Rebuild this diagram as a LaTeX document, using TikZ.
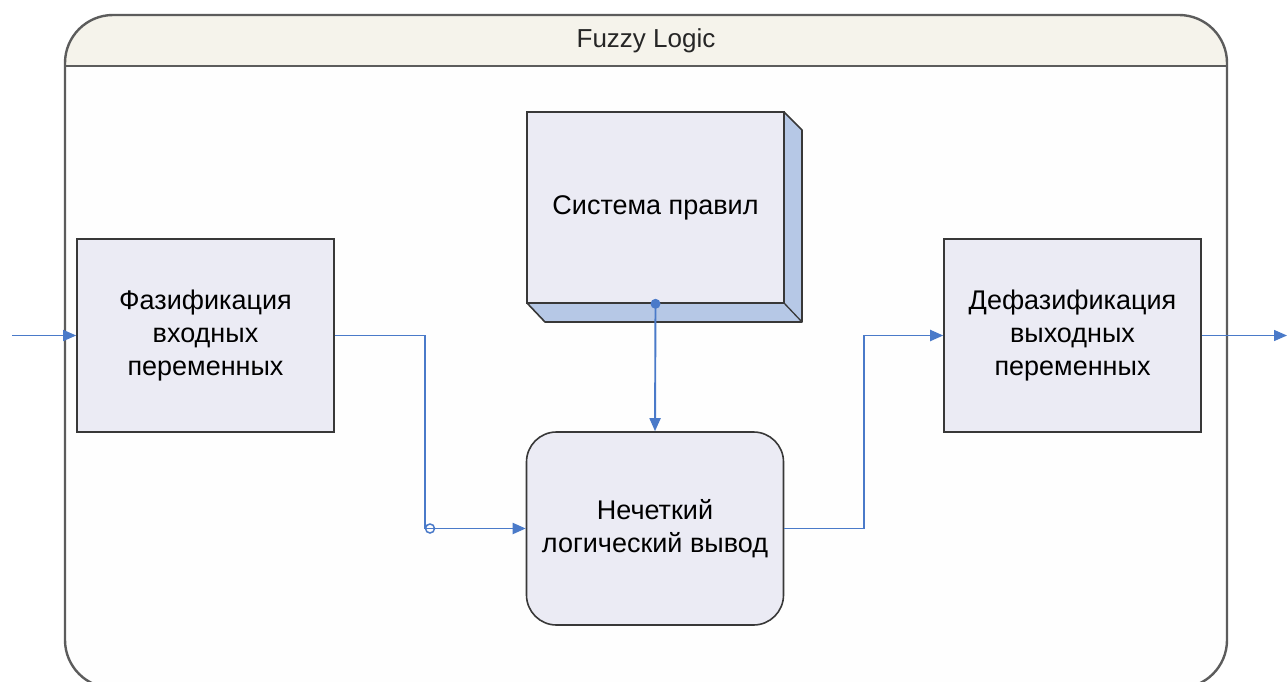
\documentclass[tikz,border=0pt]{standalone}
\usepackage{fontspec}
\setmainfont{Liberation Sans}
\usetikzlibrary{arrows.meta}
\definecolor{boxfill}{HTML}{EBEBF4}
\definecolor{hdrfill}{HTML}{F5F3EB}
\definecolor{sidefill}{HTML}{B6C8E6}
\definecolor{linkblue}{HTML}{4A7AC9}
\definecolor{edge}{HTML}{383838}
\definecolor{framegray}{HTML}{5C5C5C}
\tikzset{
  blockbox/.style={draw=edge, line width=1.6pt, fill=boxfill,
    minimum width=257pt, minimum height=193pt, inner sep=0pt,
    align=center, font=\fontsize{27}{33}\selectfont},
  conn/.style={draw=linkblue, line width=1.9pt,
    -{Triangle[length=13pt,width=11pt]}},
}
\begin{document}
\begin{tikzpicture}[x=1pt, y=-1pt]
\useasboundingbox (0,0) rectangle (1287,682);
\fill[white] (0,0) rectangle (1287,682);

% outer frame with header band
\begin{scope}
  \clip[rounded corners=48pt] (65,15) rectangle (1227,688);
  \fill[white!99!gray] (65,15) rectangle (1227,688);
  \fill[hdrfill] (65,15) rectangle (1227,66);
\end{scope}
\draw[framegray, line width=2.4pt, rounded corners=48pt] (65,15) rectangle (1227,688);
\draw[framegray, line width=2.4pt] (65,66) -- (1227,66);
\node[font=\fontsize{26}{30}\selectfont, text=black!85] (title) at (646,41) {Fuzzy Logic};

% 3D rules block: side faces first
\fill[sidefill] (527,303) -- (545,322) -- (802,322) -- (802,130) -- (784,112) -- (784,303) -- cycle;
\draw[edge, line width=1.6pt, line join=round]
  (527,303) -- (545,322) -- (802,322) -- (802,130) -- (784,112);
\draw[edge, line width=1.3pt] (784,303) -- (802,322);
\node[blockbox, minimum width=257pt, minimum height=191pt] (rules) at (655.5,207.5) {Система правил};

% main blocks
\node[blockbox] (fuzz) at (205.5,335.5) {Фазификация\\входных\\переменных};
\node[blockbox] (defuzz) at (1072.5,335.5) {Дефазификация\\выходных\\переменных};
\node[blockbox, rounded corners=30pt] (inf) at (655,528.5) {Нечеткий\\логический вывод};

% connectors
\coordinate (inpt) at (12,335.5);
\coordinate (outpt) at (1287,335.5);
\coordinate (jx) at (425,0);
\coordinate (kx) at (864,0);

\draw[conn, line width=1.4pt] (inpt) -- (fuzz.west);
\draw[conn, line width=1.4pt] (defuzz.east) -- (outpt);
\draw[conn] (fuzz.east) -- (fuzz.east -| jx) |- (inf.west);
\draw[conn] (inf.east) -- (inf.east -| kx) |- (defuzz.west);
\draw[conn] (rules.south) -- (inf.north);
\fill[linkblue] (rules.south) circle (5pt);
\node[circle, draw=linkblue, line width=1.5pt, inner sep=0pt, minimum size=9pt] (jump) at (430,528.5) {};
\end{tikzpicture}
\end{document}
